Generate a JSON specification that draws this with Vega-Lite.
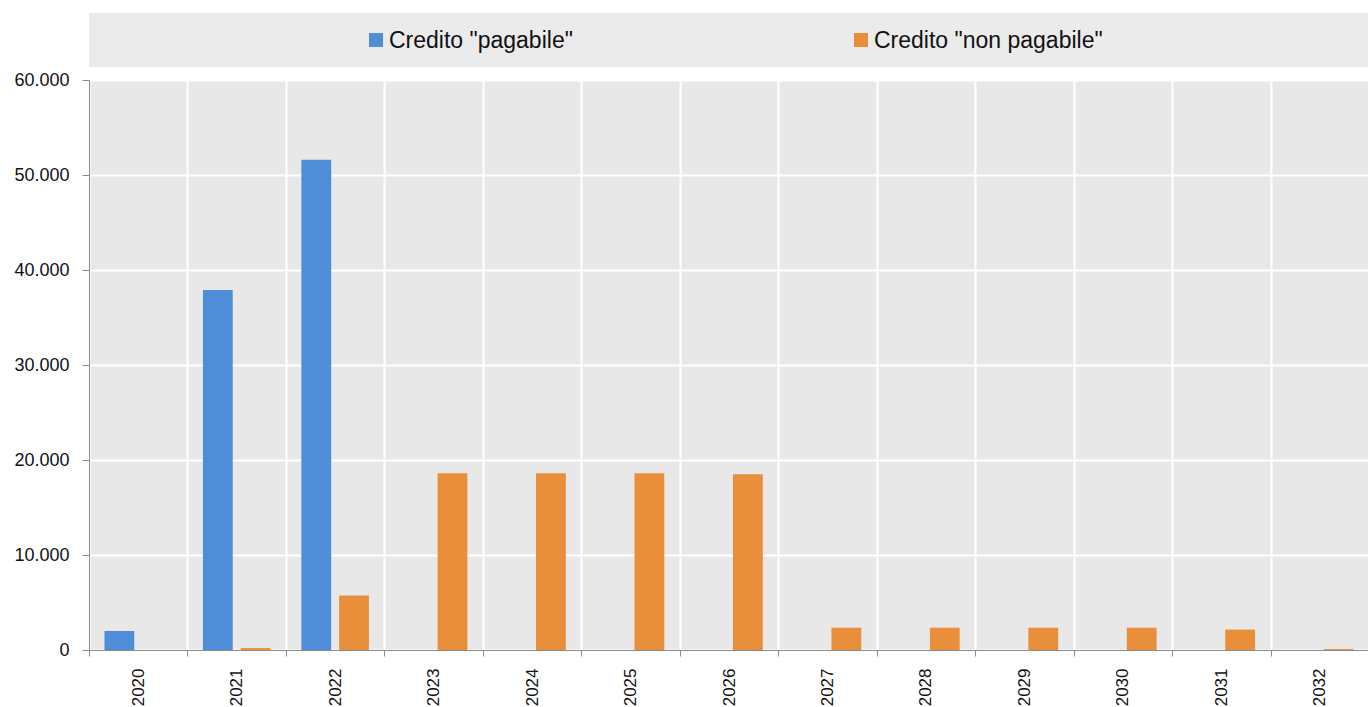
{
  "$schema": "https://vega.github.io/schema/vega-lite/v6.json",
  "padding": {"left": 13, "top": 13, "right": 0, "bottom": 0},
  "spacing": 13,
  "bounds": "flush",
  "datasets": {
    "voci": [
      {"serie": "Credito \"pagabile\""},
      {"serie": "Credito \"non pagabile\""}
    ],
    "crediti": [
      {"anno": "2020", "serie": "Credito \"pagabile\"", "valore": 2000},
      {"anno": "2021", "serie": "Credito \"pagabile\"", "valore": 37900},
      {"anno": "2021", "serie": "Credito \"non pagabile\"", "valore": 200},
      {"anno": "2022", "serie": "Credito \"pagabile\"", "valore": 51600},
      {"anno": "2022", "serie": "Credito \"non pagabile\"", "valore": 5750},
      {"anno": "2023", "serie": "Credito \"non pagabile\"", "valore": 18600},
      {"anno": "2024", "serie": "Credito \"non pagabile\"", "valore": 18600},
      {"anno": "2025", "serie": "Credito \"non pagabile\"", "valore": 18600},
      {"anno": "2026", "serie": "Credito \"non pagabile\"", "valore": 18500},
      {"anno": "2027", "serie": "Credito \"non pagabile\"", "valore": 2350},
      {"anno": "2028", "serie": "Credito \"non pagabile\"", "valore": 2350},
      {"anno": "2029", "serie": "Credito \"non pagabile\"", "valore": 2350},
      {"anno": "2030", "serie": "Credito \"non pagabile\"", "valore": 2350},
      {"anno": "2031", "serie": "Credito \"non pagabile\"", "valore": 2150},
      {"anno": "2032", "serie": "Credito \"non pagabile\"", "valore": 100}
    ]
  },
  "vconcat": [
    {
      "width": 1280,
      "height": 54,
      "data": {"name": "voci"},
      "view": {"fill": "#ebebeb", "stroke": null},
      "layer": [
        {
          "mark": {"type": "point", "shape": "square", "filled": true, "size": 196, "opacity": 1},
          "encoding": {
            "x": {"field": "serie", "type": "nominal", "sort": null, "axis": null,
                  "scale": {"type": "point", "range": [287, 772], "padding": 0}},
            "color": {"field": "serie", "type": "nominal", "legend": null,
                      "scale": {"domain": ["Credito \"pagabile\"", "Credito \"non pagabile\""],
                                "range": ["#508dd8", "#e98e3b"]}}
          }
        },
        {
          "mark": {"type": "text", "align": "left", "baseline": "middle", "dx": 13, "dy": 1,
                   "fontSize": 23, "color": "#111111"},
          "encoding": {
            "x": {"field": "serie", "type": "nominal", "sort": null, "axis": null,
                  "scale": {"type": "point", "range": [287, 772], "padding": 0}},
            "text": {"field": "serie"}
          }
        }
      ]
    },
    {
      "width": 1280,
      "height": 570,
      "data": {"name": "crediti"},
      "view": {"fill": "#e8e8e8", "stroke": null},
      "mark": {"type": "bar"},
      "encoding": {
        "x": {
          "field": "anno", "type": "ordinal",
          "scale": {"domain": ["2020","2021","2022","2023","2024","2025","2026","2027","2028","2029","2030","2031","2032"],
                    "paddingInner": 0, "paddingOuter": 0},
          "axis": {
            "title": null, "tickBand": "extent", "labelAngle": -90, "labelPadding": 12,
            "labelFontSize": 17, "labelColor": "#111111",
            "grid": true, "gridColor": "#ffffff", "gridWidth": 2,
            "domainColor": "#8c8c8c", "tickColor": "#8c8c8c", "tickSize": 6
          }
        },
        "xOffset": {
          "field": "serie", "type": "nominal",
          "scale": {"domain": ["Credito \"pagabile\"", "Credito \"non pagabile\""],
                    "paddingInner": 0.21, "paddingOuter": 0.41}
        },
        "y": {
          "field": "valore", "type": "quantitative",
          "scale": {"domain": [0, 60000], "nice": false},
          "axis": {
            "title": null, "values": [0, 10000, 20000, 30000, 40000, 50000, 60000],
            "format": ",d", "labelPadding": 13, "labelFontSize": 18, "labelColor": "#111111",
            "grid": true, "gridColor": "#ffffff", "gridWidth": 2,
            "domainColor": "#8c8c8c", "tickColor": "#8c8c8c", "tickSize": 7
          }
        },
        "color": {
          "field": "serie", "type": "nominal", "legend": null,
          "scale": {"domain": ["Credito \"pagabile\"", "Credito \"non pagabile\""],
                    "range": ["#508dd8", "#e98e3b"]}
        }
      }
    }
  ],
  "resolve": {"scale": {"x": "independent", "color": "shared"}},
  "config": {
    "font": "Liberation Sans",
    "locale": {
      "number": {"decimal": ",", "thousands": ".", "grouping": [3], "currency": ["€", ""]}
    }
  }
}
